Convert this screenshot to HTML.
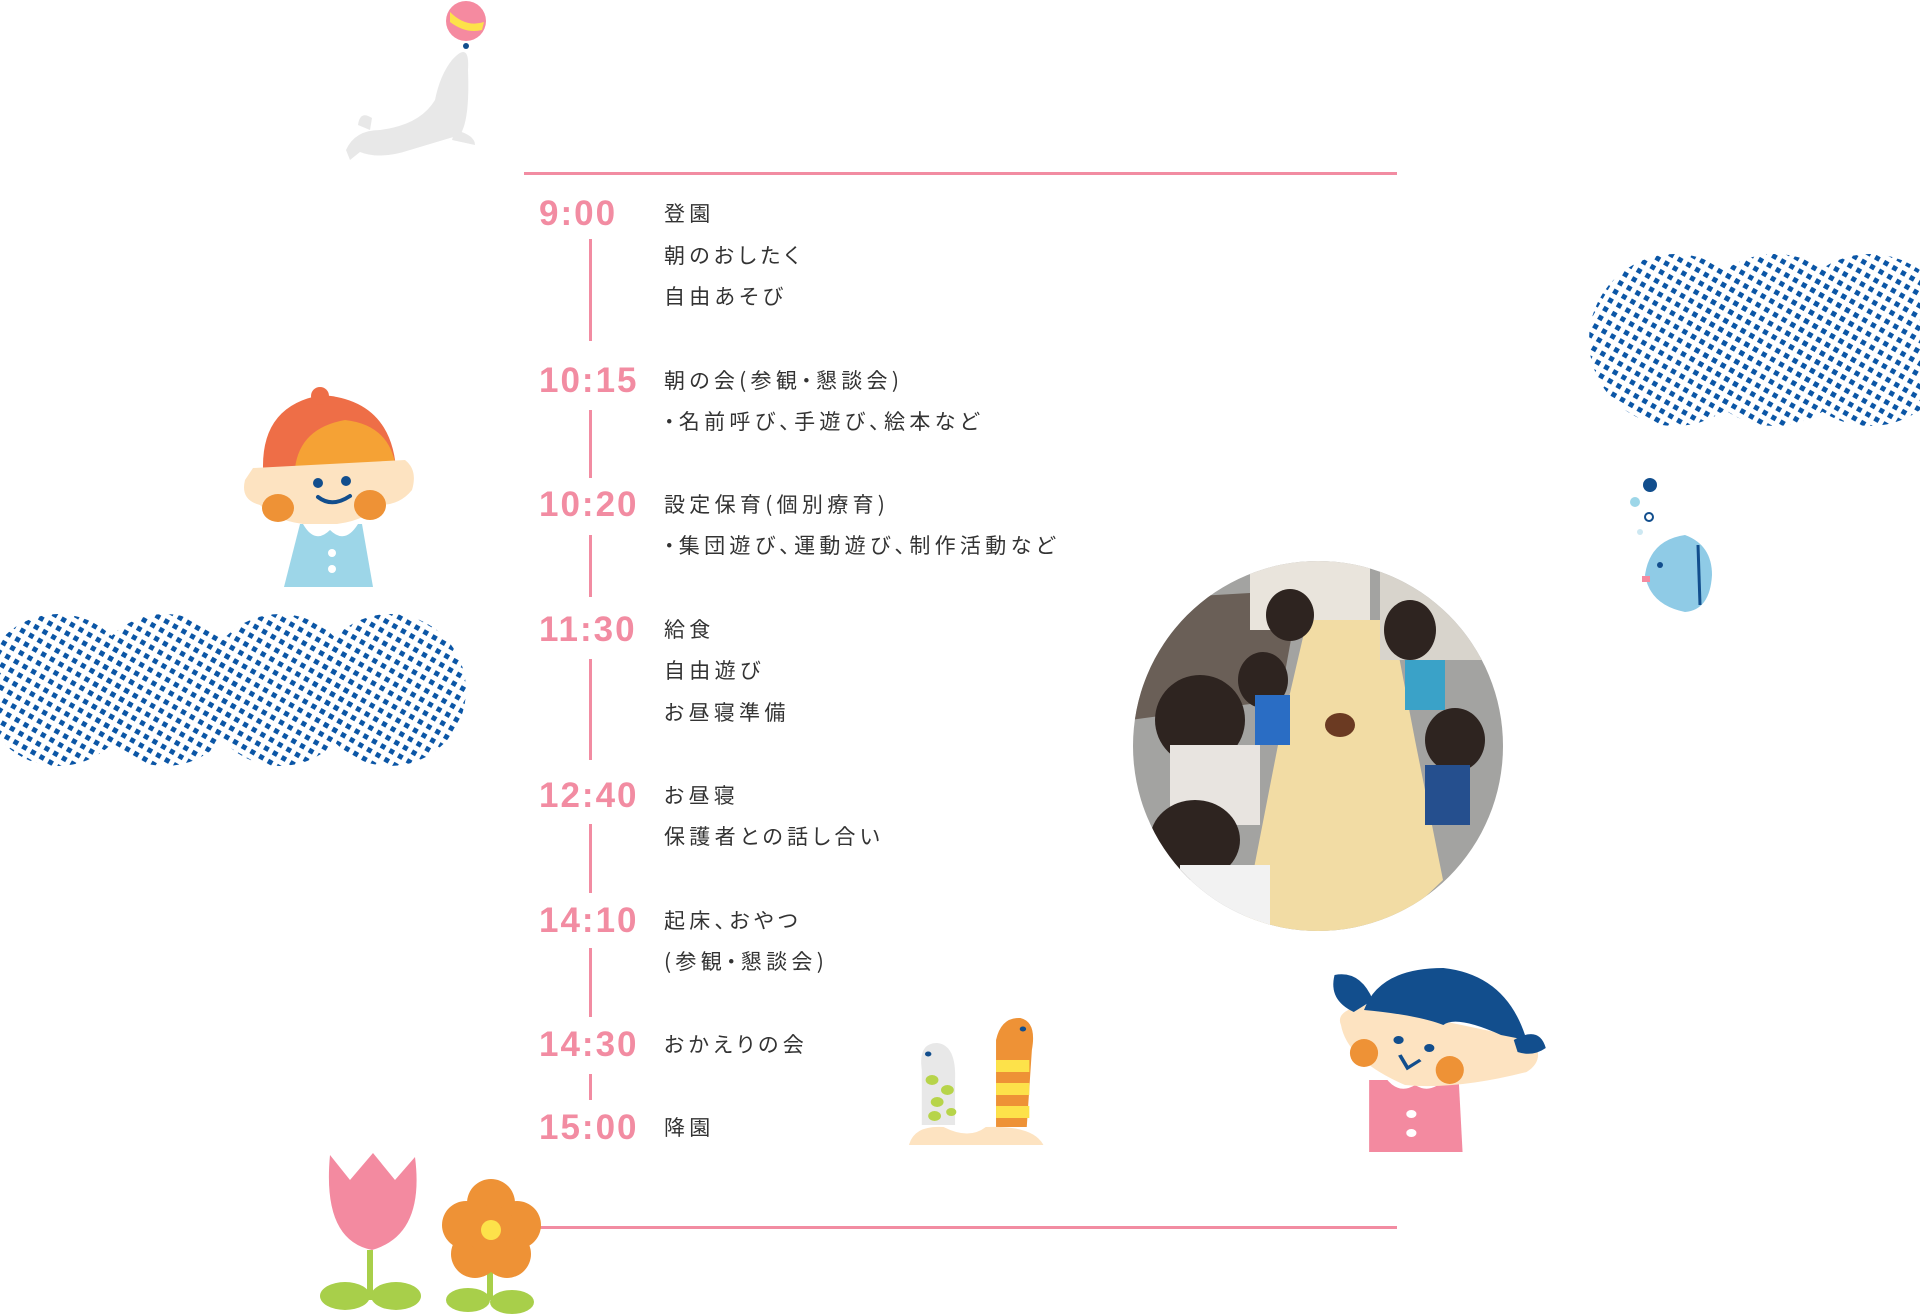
<!DOCTYPE html>
<html><head><meta charset="utf-8"><style>
html,body{margin:0;padding:0;background:#fff;width:1920px;height:1316px;overflow:hidden}
svg{display:block}
.t{font-family:"Liberation Sans","Noto Sans CJK JP",sans-serif;fill:#f28ca2;font-size:35px;font-weight:bold;letter-spacing:2px}
.j{font-family:"Noto Sans CJK JP",sans-serif;fill:#333;font-size:21px;letter-spacing:4.3px;font-feature-settings:"palt"}
</style></head><body>
<svg width="1920" height="1316" viewBox="0 0 1920 1316" xmlns="http://www.w3.org/2000/svg">
<defs>
<pattern id="ht" width="10" height="10" patternUnits="userSpaceOnUse" patternTransform="rotate(30)">
<rect x="2.5" y="2.5" width="5" height="5" fill="#0b56a6"/>
</pattern>
<clipPath id="pc"><circle cx="1318" cy="746" r="185"/></clipPath>
</defs>
<g fill="url(#ht)">
<circle cx="58" cy="690" r="76"/><circle cx="165" cy="690" r="76"/><circle cx="280" cy="690" r="76"/><circle cx="390" cy="690" r="76"/>
<circle cx="1675" cy="340" r="86"/><circle cx="1775" cy="340" r="86"/><circle cx="1870" cy="340" r="86"/>
</g>
<rect x="524" y="172" width="873" height="3" fill="#f28ca2"/>
<rect x="524" y="1226" width="873" height="3" fill="#f28ca2"/>
<g fill="#f28ca2">
<rect x="589" y="239" width="3" height="102"/>
<rect x="589" y="410" width="3" height="68"/>
<rect x="589" y="535" width="3" height="62"/>
<rect x="589" y="659" width="3" height="101"/>
<rect x="589" y="824" width="3" height="69"/>
<rect x="589" y="948" width="3" height="69"/>
<rect x="589" y="1074" width="3" height="26"/>
</g>
<g class="t">
<text x="539" y="225">9:00</text>
<text x="539" y="392">10:15</text>
<text x="539" y="516">10:20</text>
<text x="539" y="641">11:30</text>
<text x="539" y="807">12:40</text>
<text x="539" y="932">14:10</text>
<text x="539" y="1056">14:30</text>
<text x="539" y="1139">15:00</text>
</g>
<g class="j">
<text x="664" y="221">登園</text>
<text x="664" y="263">朝のおしたく</text>
<text x="664" y="304">自由あそび</text>
<text x="664" y="388">朝の会(参観・懇談会)</text>
<text x="664" y="429">・名前呼び、手遊び、絵本など</text>
<text x="664" y="512">設定保育(個別療育)</text>
<text x="664" y="553">・集団遊び、運動遊び、制作活動など</text>
<text x="664" y="637">給食</text>
<text x="664" y="678">自由遊び</text>
<text x="664" y="720">お昼寝準備</text>
<text x="664" y="803">お昼寝</text>
<text x="664" y="844">保護者との話し合い</text>
<text x="664" y="928">起床、おやつ</text>
<text x="664" y="969">(参観・懇談会)</text>
<text x="664" y="1052">おかえりの会</text>
<text x="664" y="1135">降園</text>
</g>
<g clip-path="url(#pc)">
<rect x="1130" y="560" width="380" height="380" fill="#a3a3a1"/>
<polygon points="1130,600 1300,590 1280,700 1130,720" fill="#6a5f57"/>
<rect x="1250" y="560" width="120" height="70" fill="#e9e4dc"/>
<polygon points="1307,620 1392,620 1415,740 1443,880 1380,940 1240,940 1278,745" fill="#f2dca4"/>
<rect x="1380" y="560" width="130" height="100" fill="#d8d4cc"/>
<ellipse cx="1200" cy="720" rx="45" ry="45" fill="#2e2420"/>
<rect x="1170" y="745" width="90" height="80" fill="#e8e4e0"/>
<ellipse cx="1195" cy="840" rx="45" ry="40" fill="#2e2420"/>
<rect x="1180" y="865" width="90" height="75" fill="#f2f2f2"/>
<ellipse cx="1263" cy="680" rx="25" ry="28" fill="#2e2420"/>
<rect x="1255" y="695" width="35" height="50" fill="#2a6dc4"/>
<ellipse cx="1290" cy="615" rx="24" ry="26" fill="#2e2420"/>
<ellipse cx="1410" cy="630" rx="26" ry="30" fill="#2e2420"/>
<rect x="1405" y="660" width="40" height="50" fill="#3aa2c8"/>
<ellipse cx="1455" cy="740" rx="30" ry="32" fill="#2e2420"/>
<rect x="1425" y="765" width="45" height="60" fill="#254f8e"/>
<ellipse cx="1340" cy="725" rx="15" ry="12" fill="#6b3a22"/>
</g>
<g>
<circle cx="466" cy="21" r="20" fill="#f58aa0"/>
<path d="M450,12 Q466,28 484,22 L482,30 Q466,34 450,22Z" fill="#fde24a"/>
<path d="M452,60 Q470,40 468,70 Q470,120 460,135 L410,150 Q380,160 360,152 L350,160 L346,150 Q355,130 380,130 Q420,125 435,100 Q440,75 452,60Z" fill="#e8e8e8"/>
<path d="M372,118 Q360,110 358,125 L370,130Z" fill="#e8e8e8"/>
<path d="M455,130 Q475,135 475,145 L452,140Z" fill="#e8e8e8"/>
<circle cx="466" cy="46" r="3" fill="#124e8d"/>
</g>
<g>
<path d="M263,468 Q262,405 322,395 Q390,400 396,468Z" fill="#ee6e47"/>
<path d="M295,468 Q300,428 345,420 Q390,425 396,468Z" fill="#f5a235"/>
<circle cx="320" cy="396" r="9" fill="#ee6e47"/>
<path d="M253,468 L405,460 Q418,470 412,490 Q400,505 380,505 Q360,525 320,525 Q280,525 260,505 Q240,500 245,480Z" fill="#fde3c1"/>
<ellipse cx="278" cy="508" rx="16" ry="14" fill="#ee9236"/>
<ellipse cx="370" cy="505" rx="16" ry="15" fill="#ee9236"/>
<circle cx="318" cy="483" r="5" fill="#124e8d"/><circle cx="346" cy="481" r="5" fill="#124e8d"/>
<path d="M318,497 Q332,508 350,496" stroke="#124e8d" stroke-width="4" fill="none" stroke-linecap="round"/>
<polygon points="300,524 362,524 373,587 284,587" fill="#9dd6e8"/>
<path d="M303,524 Q315,545 330,530 Q345,545 358,524Z" fill="#fff"/>
<circle cx="332" cy="553" r="4" fill="#fff"/><circle cx="332" cy="569" r="4" fill="#fff"/>
</g>
<g>
<circle cx="1650" cy="485" r="7" fill="#124e8d"/>
<circle cx="1635" cy="502" r="5" fill="#9dd6e8"/>
<circle cx="1649" cy="517" r="4" fill="none" stroke="#124e8d" stroke-width="2"/>
<circle cx="1640" cy="532" r="3" fill="#cde8f2"/>
<path d="M1645,575 Q1650,540 1685,535 Q1712,545 1712,575 Q1710,610 1685,612 Q1650,605 1645,575Z" fill="#8fcbe6"/>
<circle cx="1660" cy="565" r="3" fill="#124e8d"/>
<rect x="1642" y="576" width="8" height="6" fill="#f58aa0"/>
<path d="M1698,545 L1700,605" stroke="#124e8d" stroke-width="3"/>
</g>
<g transform="translate(909,0) scale(1.28,1) translate(-908,0)">
<path d="M918,1125 L918,1070 Q915,1043 930,1043 Q945,1045 944,1080 L944,1125Z" fill="#e8e8e8"/>
<circle cx="926" cy="1080" r="5" fill="#b7d44a"/><circle cx="938" cy="1090" r="5" fill="#b7d44a"/><circle cx="930" cy="1102" r="5" fill="#b7d44a"/><circle cx="928" cy="1116" r="5" fill="#b7d44a"/><circle cx="941" cy="1112" r="4" fill="#b7d44a"/>
<path d="M976,1127 L976,1040 Q980,1017 995,1018 Q1008,1022 1004,1050 L1000,1127Z" fill="#ee9236"/>
<rect x="976" y="1060" width="26" height="12" fill="#fde24a"/><rect x="976" y="1083" width="26" height="12" fill="#fde24a"/><rect x="976" y="1106" width="26" height="12" fill="#fde24a"/>
<circle cx="997" cy="1029" r="2.5" fill="#124e8d"/><circle cx="923" cy="1054" r="2.5" fill="#124e8d"/>
<path d="M908,1145 Q912,1125 935,1127 Q955,1140 968,1127 Q1005,1125 1013,1145Z" fill="#fde3c1"/>
</g>
<g transform="translate(1332,0) scale(1.28,1) translate(-1243,0)">
<path d="M1272,1080 L1342,1080 L1345,1152 L1272,1152Z" fill="#f38aa0"/>
<path d="M1285,1078 Q1295,1095 1308,1085 Q1320,1095 1332,1078Z" fill="#fff"/>
<circle cx="1305" cy="1114" r="4" fill="#fff"/><circle cx="1305" cy="1133" r="4" fill="#fff"/>
<path d="M1250,1025 Q1245,1010 1270,1005 L1400,1040 Q1410,1060 1395,1072 Q1340,1090 1300,1085 Q1255,1060 1250,1025Z" fill="#fde3c1"/>
<path d="M1268,1010 Q1280,968 1330,968 Q1380,975 1395,1040 L1375,1035 Q1340,1015 1330,1025 Q1310,1015 1268,1010Z" fill="#124e8d"/>
<path d="M1245,975 Q1265,970 1275,1000 L1260,1012 Q1240,1000 1245,975Z" fill="#124e8d"/>
<path d="M1385,1040 Q1405,1025 1410,1048 Q1400,1057 1388,1052Z" fill="#124e8d"/>
<ellipse cx="1268" cy="1053" rx="11" ry="14" fill="#ee9236"/>
<ellipse cx="1335" cy="1070" rx="11" ry="14" fill="#ee9236"/>
<circle cx="1295" cy="1040" r="4" fill="#124e8d"/><circle cx="1319" cy="1048" r="4" fill="#124e8d"/>
<path d="M1296,1055 L1302,1068 L1312,1060" stroke="#124e8d" stroke-width="3" fill="none"/>
</g>
<g>
<path d="M370,1250 L370,1300" stroke="#a8cf4a" stroke-width="6"/>
<path d="M330,1155 L350,1180 L373,1153 L395,1180 L415,1157 Q425,1235 372,1250 Q322,1240 330,1155Z" fill="#f38aa0"/>
<ellipse cx="345" cy="1296" rx="25" ry="14" fill="#a8cf4a"/><ellipse cx="396" cy="1296" rx="25" ry="14" fill="#a8cf4a"/>
<path d="M490,1255 L490,1300" stroke="#a8cf4a" stroke-width="6"/>
<ellipse cx="468" cy="1300" rx="22" ry="12" fill="#a8cf4a"/><ellipse cx="512" cy="1302" rx="22" ry="12" fill="#a8cf4a"/>
<g fill="#ee9236">
<circle cx="491" cy="1203" r="24"/><circle cx="517" cy="1225" r="24"/><circle cx="507" cy="1254" r="24"/><circle cx="475" cy="1254" r="24"/><circle cx="466" cy="1225" r="24"/><circle cx="491" cy="1230" r="25"/>
</g>
<circle cx="491" cy="1230" r="10" fill="#fde24a"/>
</g>
</svg>
</body></html>
